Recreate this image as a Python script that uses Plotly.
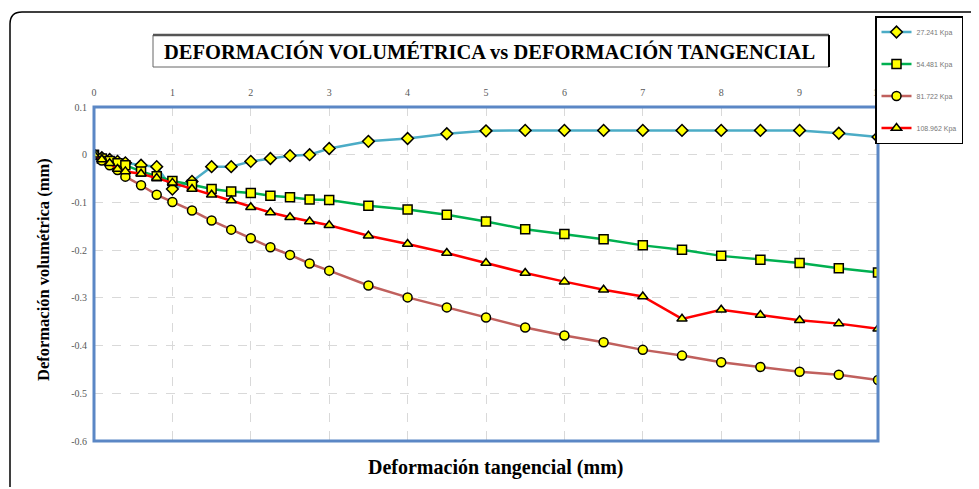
import plotly.graph_objects as go

x_vals = [0, 0.1, 0.2, 0.3, 0.4, 0.6, 0.8, 1.0, 1.25, 1.5, 1.75, 2.0, 2.25, 2.5, 2.75, 3.0,
          3.5, 4.0, 4.5, 5.0, 5.5, 6.0, 6.5, 7.0, 7.5, 8.0, 8.5, 9.0, 9.5, 10.0]

y_27 = [0, -0.006, -0.010, -0.014, -0.017, -0.022, -0.025, -0.072, -0.056, -0.025, -0.025, -0.014,
        -0.008, -0.002, 0.0, 0.013, 0.028, 0.034, 0.044, 0.050, 0.051, 0.051, 0.051, 0.051,
        0.051, 0.051, 0.051, 0.051, 0.045, 0.037]
y_54 = [0, -0.008, -0.013, -0.018, -0.022, -0.035, -0.045, -0.055, -0.063, -0.072, -0.077, -0.080,
        -0.086, -0.089, -0.094, -0.095, -0.107, -0.115, -0.126, -0.140, -0.156, -0.166, -0.177,
        -0.190, -0.199, -0.212, -0.220, -0.227, -0.238, -0.247]
y_81 = [0, -0.012, -0.022, -0.032, -0.046, -0.064, -0.084, -0.099, -0.117, -0.138, -0.157, -0.175,
        -0.194, -0.210, -0.228, -0.243, -0.274, -0.299, -0.320, -0.341, -0.362, -0.379, -0.393,
        -0.409, -0.421, -0.435, -0.445, -0.455, -0.461, -0.472]
y_108 = [0, -0.010, -0.018, -0.030, -0.035, -0.040, -0.049, -0.059, -0.072, -0.084, -0.096, -0.110,
         -0.121, -0.131, -0.140, -0.148, -0.170, -0.187, -0.206, -0.227, -0.248, -0.266, -0.283,
         -0.297, -0.344, -0.325, -0.336, -0.347, -0.354, -0.365]

series_names = ["27.241 Kpa", "54.481 Kpa", "81.722 Kpa", "108.962 Kpa"]
series_data = [y_27, y_54, y_81, y_108]
line_colors = ["#4BACC6", "#00B050", "#C0605D", "#FF0000"]
symbols = ["diamond", "square", "circle", "triangle-up"]

x_ticks = [0, 1, 2, 3, 4, 5, 6, 7, 8, 9, 10]
y_ticks = [0.1, 0, -0.1, -0.2, -0.3, -0.4, -0.5, -0.6]
y_tick_text = ["0.1", "0", "-0.1", "-0.2", "-0.3", "-0.4", "-0.5", "-0.6"]

# page offset of the figure (default body margin)
OFF = 8
W, H = 979 - OFF, 489 - OFF
# plot area in page pixels: x 94..878, y 107..441
L, T = 94 - OFF, 107 - OFF
R = W - (878 - OFF)
B = H - (441 - OFF)
pw, ph = W - L - R, H - T - B


def px(xp):
    return (xp - OFF - L) / pw


def py(yp):
    return (H - B - (yp - OFF)) / ph


fig = go.Figure()
for i, (name, ys) in enumerate(zip(series_names, series_data)):
    fig.add_trace(go.Scatter(
        x=x_vals, y=ys, name=name, mode="lines+markers",
        line=dict(color=line_colors[i], width=2.5),
        marker=dict(symbol=symbols[i], size=9,
                    color="#FFFF00", line=dict(color="#000000", width=1.5)),
        legendgroup=f"g{i}",
    ))

shapes = []
# outer rounded frame
x0, y0, x1, y1 = px(10), py(12), px(995), py(487)
r_x, r_y = px(22) - px(10), py(12) - py(24)
shapes.append(dict(type="path", xref="paper", yref="paper",
                   path=f"M {x1},{y0} L {x0 + r_x},{y0} Q {x0},{y0} {x0},{y0 - r_y} L {x0},{y1}",
                   line=dict(color="#000000", width=1.5)))
# plot-area blue frame
shapes.append(dict(type="rect", xref="paper", yref="paper", x0=0, y0=0, x1=1, y1=1,
                   line=dict(color="#5B87C5", width=3), layer="above"))
# title box
shapes.append(dict(type="rect", xref="paper", yref="paper",
                   x0=px(153), x1=px(829), y0=py(67), y1=py(35),
                   line=dict(color="#666666", width=1), fillcolor="white", layer="below"))
shapes.append(dict(type="line", xref="paper", yref="paper",
                   x0=px(153), x1=px(829), y0=py(35), y1=py(35),
                   line=dict(color="#555555", width=2.5)))
shapes.append(dict(type="line", xref="paper", yref="paper",
                   x0=px(829), x1=px(829), y0=py(67), y1=py(35),
                   line=dict(color="#000000", width=2)))

annotations = [
    dict(text="<b>DEFORMACIÓN VOLUMÉTRICA vs DEFORMACIÓN TANGENCIAL</b>", xref="paper", yref="paper",
         x=px(490), y=py(52), showarrow=False, xanchor="center", yanchor="middle",
         font=dict(family="Liberation Serif", size=20.5, color="#000000")),
    dict(text="<b>Deformación tangencial (mm)</b>", xref="paper", yref="paper",
         x=px(496), y=py(467), showarrow=False, xanchor="center", yanchor="middle",
         font=dict(family="Liberation Serif", size=20, color="#000000")),
    dict(text="<b>Deformación volumétrica (mm)</b>", xref="paper", yref="paper",
         x=px(43), y=py(270), showarrow=False, xanchor="center", yanchor="middle", textangle=-90,
         font=dict(family="Liberation Serif", size=16.5, color="#000000")),
]

fig.update_layout(
    width=W, height=H,
    margin=dict(l=L, r=R, t=T, b=B, autoexpand=False),
    paper_bgcolor="white", plot_bgcolor="white",
    shapes=shapes, annotations=annotations,
    showlegend=True,
    legend=dict(x=px(875), y=py(16), xanchor="left", yanchor="top",
                bordercolor="#000000", borderwidth=1.5, bgcolor="white",
                font=dict(family="Liberation Sans", size=7, color="#777777"),
                traceorder="grouped", tracegroupgap=13, itemwidth=30),
    xaxis=dict(range=[0, 10], side="top", tickvals=x_ticks, ticktext=[str(t) for t in x_ticks],
               showgrid=True, gridcolor="#D9D9D9", griddash="dash", gridwidth=1,
               zeroline=False, showline=False, ticks="", ticklabelstandoff=8,
               tickfont=dict(family="Liberation Serif", size=10, color="#595959")),
    yaxis=dict(range=[-0.6, 0.1], tickvals=y_ticks, ticktext=y_tick_text,
               showgrid=True, gridcolor="#D9D9D9", griddash="dash", gridwidth=1,
               zeroline=False, showline=False, ticks="", ticklabelstandoff=6,
               tickfont=dict(family="Liberation Serif", size=10, color="#595959")),
)

fig.write_html("out.html")
